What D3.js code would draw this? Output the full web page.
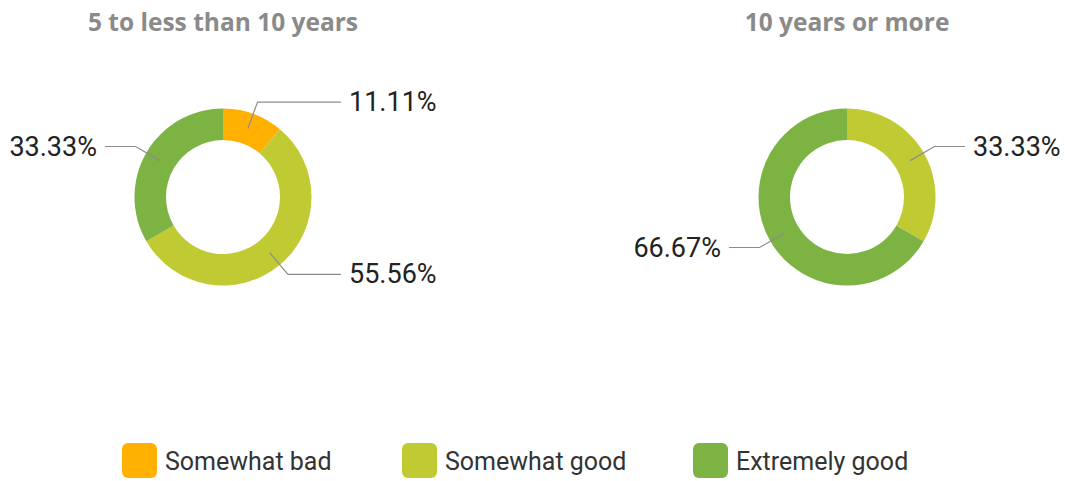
<!DOCTYPE html>
<html>
<head>
<meta charset="utf-8">
<script src="https://cdn.jsdelivr.net/npm/d3@7"></script>
<style>
  html, body { margin: 0; padding: 0; background: #fff; }
  svg { display: block; }
</style>
</head>
<body>
<svg id="chart" width="1065" height="481"></svg>
<script>
// Response categories and colours
const categories = ["Somewhat bad", "Somewhat good", "Extremely good"];
const colors = ["#FFB000", "#C0CA33", "#7CB342"];

// One donut per tenure group
const groups = ["5 to less than 10 years", "10 years or more"];
const values5to10 = [11.11, 55.56, 33.33];
const values10plus = [0, 33.33, 66.67];
const groupValues = [values5to10, values10plus];

const svg = d3.select("#chart");

const color = d3.scaleOrdinal().domain(categories).range(colors);
const centerX = d3.scalePoint().domain(groups).range([223, 847]);
const cy = 197;
const outerR = 88.5, innerR = 57;
const midR = (outerR + innerR) / 2;
const elbowR = 101;
const lineReach = 118;

const pie = d3.pie().sort(null).value(d => d.value);
const arc = d3.arc().innerRadius(innerR).outerRadius(outerR);

groups.forEach((g, gi) => {
  const cx = centerX(g);
  const data = categories.map((c, i) => ({ cat: c, value: groupValues[gi][i] }));
  const arcs = pie(data);
  const root = svg.append("g").attr("transform", `translate(${cx},${cy})`);

  // group title
  svg.append("text")
    .attr("x", cx).attr("y", 21)
    .attr("text-anchor", "middle")
    .attr("dominant-baseline", "central")
    .attr("font-family", "'Open Sans', sans-serif")
    .attr("font-weight", 700)
    .attr("font-size", 24.5)
    .attr("fill", "#8a8a8a")
    .text(g);

  root.selectAll("path.slice")
    .data(arcs.filter(a => a.data.value > 0))
    .join("path")
    .attr("class", "slice")
    .attr("d", arc)
    .attr("fill", d => color(d.data.cat));

  // leader lines and value labels
  arcs.filter(a => a.data.value > 0).forEach(a => {
    const m = (a.startAngle + a.endAngle) / 2;
    const sx = Math.sin(m), sy = -Math.cos(m);
    const right = sx >= 0;
    const p0 = [midR * sx, midR * sy];
    const p1 = [elbowR * sx, elbowR * sy];
    const p2 = [right ? lineReach : -lineReach, p1[1]];
    root.append("polyline")
      .attr("points", [p0, p1, p2].map(p => p.join(",")).join(" "))
      .attr("fill", "none")
      .attr("stroke", "#8c8c8c")
      .attr("stroke-width", 1.2);
    root.append("text")
      .attr("x", right ? lineReach + 8 : -lineReach - 8)
      .attr("y", p1[1])
      .attr("text-anchor", right ? "start" : "end")
      .attr("dominant-baseline", "central")
      .attr("font-family", "Roboto, sans-serif")
      .attr("font-size", 27)
      .attr("fill", "#222")
      .text(d3.format(".2f")(a.data.value) + "%");
  });
});

// legend
const legendX = d3.scaleOrdinal().domain(categories).range([122, 402, 693]);
const legend = svg.append("g");
categories.forEach(c => {
  const x = legendX(c);
  legend.append("rect")
    .attr("x", x).attr("y", 443)
    .attr("width", 35).attr("height", 35)
    .attr("rx", 6)
    .attr("fill", color(c));
  legend.append("text")
    .attr("x", x + 43).attr("y", 461)
    .attr("dominant-baseline", "central")
    .attr("font-family", "Roboto, sans-serif")
    .attr("font-size", 25)
    .attr("fill", "#333")
    .text(c);
});
</script>
</body>
</html>
